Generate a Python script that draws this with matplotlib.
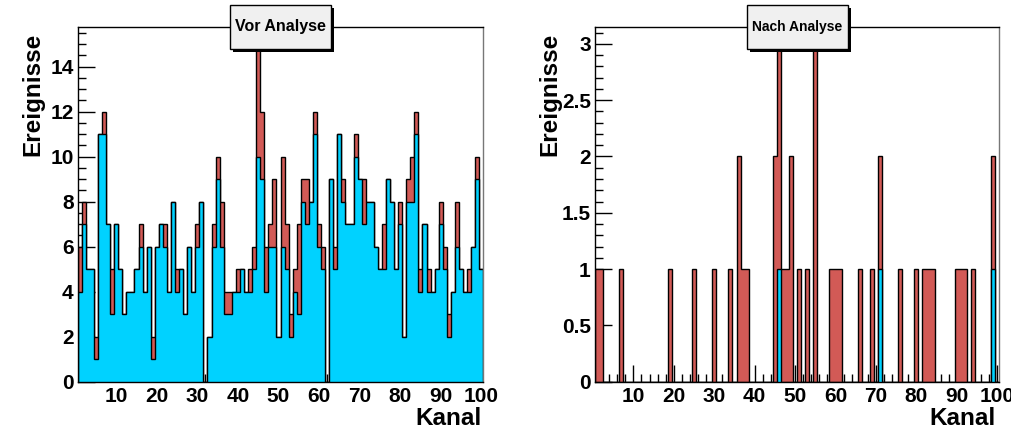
import numpy as np
import matplotlib
matplotlib.use("Agg")
import matplotlib.pyplot as plt
from matplotlib.patches import Rectangle
from matplotlib.ticker import MultipleLocator, FuncFormatter

plt.rcParams['font.family'] = ['Liberation Sans', 'DejaVu Sans']
plt.rcParams['font.weight'] = 'bold'

kanal = np.arange(1, 101)

# Vor Analyse: rot = alle Ereignisse, cyan = Teilmenge
vor_rot = [6, 8, 5, 5, 2, 11, 12, 7, 5, 7,
           5, 3, 4, 4, 5, 7, 4, 6, 2, 6,
           7, 7, 4, 8, 5, 5, 3, 6, 4, 7,
           8, 0, 2, 7, 10, 8, 4, 4, 4, 5,
           5, 4, 5, 6, 15, 12, 6, 7, 9, 2,
           10, 7, 3, 5, 7, 9, 9, 8, 12, 7,
           6, 0, 9, 6, 11, 9, 7, 7, 11, 9,
           9, 8, 8, 6, 5, 7, 9, 8, 5, 8,
           2, 9, 10, 12, 5, 7, 5, 4, 5, 8,
           6, 3, 4, 8, 5, 4, 5, 6, 10, 5]
vor_cyan = [4, 7, 5, 5, 1, 11, 11, 7, 3, 7,
            5, 3, 4, 4, 5, 6, 4, 6, 1, 6,
            7, 6, 4, 8, 4, 5, 3, 6, 4, 6,
            8, 0, 2, 6, 9, 6, 3, 3, 4, 4,
            5, 4, 4, 5, 10, 9, 4, 6, 6, 2,
            6, 5, 2, 4, 3, 8, 7, 8, 11, 6,
            5, 0, 9, 5, 11, 8, 7, 7, 10, 9,
            7, 8, 8, 6, 5, 5, 9, 8, 5, 7,
            2, 8, 8, 11, 4, 7, 4, 4, 5, 7,
            5, 2, 4, 6, 5, 4, 4, 6, 9, 5]

# Nach Analyse: nur belegte Kanaele
nach_rot_kanal = [1, 2, 7, 19, 25, 30, 34, 36, 37, 38, 45, 46, 47, 48, 49, 51, 53, 55,
                  59, 60, 61, 66, 69, 71, 76, 80, 82, 83, 84, 90, 91, 92, 94, 99]
nach_rot_wert = [1, 1, 1, 1, 1, 1, 1, 2, 1, 1, 2, 3, 1, 1, 2, 1, 1, 3,
                 1, 1, 1, 1, 1, 2, 1, 1, 1, 1, 1, 1, 1, 1, 1, 2]
nach_cyan_kanal = [46, 71, 99]
nach_cyan_wert = [1, 1, 1]

ROT = '#d25a56'
CYAN = '#00d2ff'

nach_rot = np.zeros(100)
nach_rot[np.array(nach_rot_kanal) - 1] = nach_rot_wert
nach_cyan = np.zeros(100)
nach_cyan[np.array(nach_cyan_kanal) - 1] = nach_cyan_wert

edges = np.append(kanal - 0.5, 100.5)

W, H = 1011, 432
fig = plt.figure(figsize=(W / 100, H / 100), dpi=100)


def fx(px):
    return px / W


def fy(py):
    return 1 - py / H


def panel(left_px, right_px, rot, cyan, ymax, ymajor, yminor, title, title_size, box_px, kanal_x):
    ax = fig.add_axes([fx(left_px), fy(381.7), fx(right_px - left_px), (381.7 - 27) / H])
    ax.stairs(rot, edges, fill=True, facecolor=ROT, edgecolor='black', lw=1)
    ax.stairs(cyan, edges, fill=True, facecolor=CYAN, edgecolor='black', lw=1)
    ax.set_xlim(0.5, 100.5)
    ax.set_ylim(0, ymax)
    ax.set_axisbelow(True)
    ax.xaxis.set_major_locator(MultipleLocator(10))
    ax.xaxis.set_minor_locator(MultipleLocator(2))
    ax.yaxis.set_major_locator(MultipleLocator(ymajor))
    ax.yaxis.set_minor_locator(MultipleLocator(yminor))
    ax.yaxis.set_major_formatter(FuncFormatter(lambda v, p: '%g' % v))
    ax.tick_params(which='both', direction='in', top=False, right=False,
                   labelsize=15, width=1)
    ax.tick_params(which='major', length=12)
    ax.tick_params(which='minor', length=6)
    ax.tick_params(axis='y', pad=3)
    ax.tick_params(axis='x', pad=4)
    for t in ax.get_xticklabels() + ax.get_yticklabels():
        t.set_fontweight('bold')
    for s in ax.spines.values():
        s.set_linewidth(1)
    ax.spines['right'].set_color('#777777')
    ax.set_ylabel('Ereignisse', fontsize=17.5, fontweight='bold', loc='top')
    ax.yaxis.set_label_coords(-0.083, 0.985)
    ax.set_xlabel('Kanal', fontsize=17.5, fontweight='bold', loc='right')
    ax.xaxis.set_label_coords(kanal_x, -0.072)

    x0, y0, x1, y1 = box_px
    shadow = Rectangle((fx(x0 + 3), fy(y1 + 3)), fx(x1 - x0), (y1 - y0) / H,
                       transform=fig.transFigure, facecolor='black', edgecolor='none', zorder=5)
    box = Rectangle((fx(x0), fy(y1)), fx(x1 - x0), (y1 - y0) / H,
                    transform=fig.transFigure, facecolor='#f0f0f0', edgecolor='black',
                    lw=1, zorder=6)
    fig.add_artist(shadow)
    fig.add_artist(box)
    fig.text(fx((x0 + x1) / 2), fy((y0 + y1) / 2), title, ha='center', va='center',
             fontsize=title_size, fontweight='bold', zorder=7)
    return ax


panel(77.7, 483.3, vor_rot, vor_cyan, 15.76, 2, 0.5,
      'Vor Analyse', 11.5, (230, 5, 331, 49), 0.995)
panel(595, 999.3, nach_rot, nach_cyan, 3.15, 0.5, 0.1,
      'Nach Analyse', 10, (747, 5, 848, 49), 0.992)

fig.savefig('out.png', dpi=100, facecolor='white')
